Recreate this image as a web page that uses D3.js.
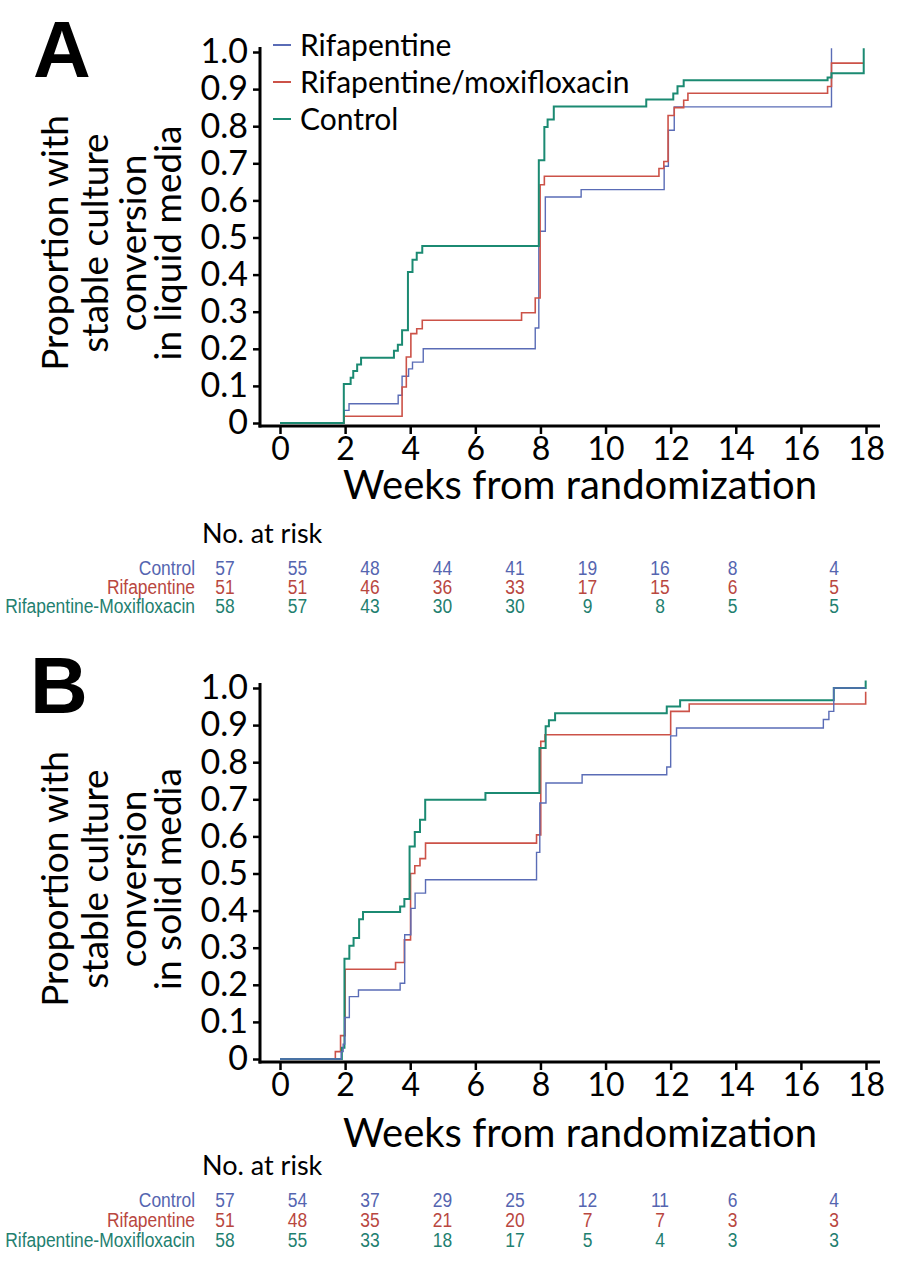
<!DOCTYPE html>
<html><head><meta charset="utf-8">
<script src="https://cdn.jsdelivr.net/npm/d3@7"></script>
<style>body{margin:0;background:#fff}svg{display:block}</style>
</head><body>
<script>
// ---------- DATA ----------
const xTicks = [0,2,4,6,8,10,12,14,16,18];
const yTicks = [0,0.1,0.2,0.3,0.4,0.5,0.6,0.7,0.8,0.9,1.0];
const legendNames = ["Rifapentine","Rifapentine/moxifloxacin","Control"];
const riskGroups = ["Control","Rifapentine","Rifapentine-Moxifloxacin"];
const riskTimes = [0,2,4,6,8,10,12,14,16.8];

// Panel A (liquid media)
const aRifT = [0,1.97,2.12,3.63,3.75,3.95,4.07,4.4,7.84,7.95,8.15,9.25,11.8,11.93,12.11,16.94];
const aRifV = [0,0.034,0.052,0.075,0.126,0.146,0.164,0.2,0.256,0.517,0.609,0.629,0.692,0.789,0.852,1.01];
const aMoxT = [0,1.97,3.75,3.88,4.02,4.2,4.37,7.42,7.84,7.99,8.12,11.64,11.79,11.92,12.11,12.4,12.53,16.82,16.94,17.93];
const aMoxV = [0,0.018,0.097,0.178,0.241,0.254,0.277,0.297,0.337,0.642,0.665,0.686,0.705,0.829,0.85,0.87,0.889,0.907,0.97,0.97];
const aCtlT = [0,1.96,2.17,2.25,2.37,2.49,3.5,3.62,3.75,3.93,4.07,4.2,4.37,7.95,8.12,8.22,8.41,11.25,12.08,12.21,12.4,16.82,16.94,17.93];
const aCtlV = [0,0.105,0.122,0.14,0.158,0.176,0.195,0.211,0.25,0.407,0.44,0.459,0.477,0.708,0.798,0.818,0.853,0.872,0.888,0.908,0.924,0.931,0.943,1.01];
const aRiskControl = [57,55,48,44,41,19,16,8,4];
const aRiskRif = [51,51,46,36,33,17,15,6,5];
const aRiskMox = [58,57,43,30,30,9,8,5,5];

// Panel B (solid media)
const bRifT = [0,1.88,1.94,1.99,2.13,2.41,3.69,3.83,4.02,4.15,4.47,7.88,7.98,8.17,9.28,11.88,12.0,12.18,16.69,16.86,17.01,17.99];
const bRifV = [0,0.02,0.04,0.112,0.168,0.186,0.204,0.335,0.406,0.447,0.483,0.557,0.69,0.744,0.766,0.787,0.871,0.892,0.915,0.937,1.0,1.0];
const bMoxT = [0,1.7,1.86,2.0,3.55,3.82,4.01,4.14,4.3,4.47,7.88,8.01,8.14,12.0,12.57,17.99];
const bMoxV = [0,0.02,0.063,0.242,0.26,0.321,0.5,0.521,0.54,0.582,0.604,0.856,0.874,0.937,0.957,0.99];
const bCtlT = [0,1.9,1.98,2.13,2.26,2.43,2.55,3.69,3.82,3.98,4.14,4.3,4.46,6.31,7.97,8.16,8.26,8.45,11.88,12.29,17.01,17.99];
const bCtlV = [0,0.03,0.27,0.305,0.326,0.377,0.396,0.411,0.431,0.573,0.612,0.645,0.699,0.717,0.838,0.897,0.913,0.932,0.95,0.967,1.0,1.02];
const bRiskControl = [57,54,37,29,25,12,11,6,4];
const bRiskRif = [51,48,35,21,20,7,7,3,3];
const bRiskMox = [58,55,33,18,17,5,4,3,3];

// ---------- STYLE ----------
const C_BLUE = "#5a6cb6", C_RED = "#cc5248", C_TEAL = "#1b8a72";
const RISK_COLORS = ["#5565b0", "#b9473f", "#1f8070"];
const AX_FONT = "Lato, 'Open Sans', sans-serif";
const RISK_FONT = "'Liberation Sans', Arial, sans-serif";
const NARROW = 0.83;

const svg = d3.select("body").append("svg").attr("width",900).attr("height",1266);

function panel(opt){
  const g = svg.append("g");
  const x = d3.scaleLinear().domain([0,18]).range([280,866]);
  const y = d3.scaleLinear().domain([0,1]).range([opt.y0, opt.y1]);
  const axY = opt.y0 + 3;

  // big letter
  g.append("text").attr("x",opt.letterX).attr("y",opt.letterY)
    .attr("font-family","'Liberation Sans', Arial, sans-serif").attr("font-weight",900)
    .attr("font-size",80).text(opt.letter);

  // y title
  opt.yTitle.forEach((t,i)=>{
    g.append("text").attr("transform",`translate(${[55,95,133,168][i]},${opt.yTitleC}) rotate(-90)`)
      .attr("text-anchor","middle").attr("dy","0.36em")
      .attr("font-family",AX_FONT).attr("font-size",37).text(t);
  });

  // y axis
  const yAxis = d3.axisLeft(y).tickValues(yTicks).tickSize(7).tickPadding(5)
    .tickFormat(d=> d===0 ? "0" : d3.format(".1f")(d));
  const ya = g.append("g").attr("transform","translate(260,0)").call(yAxis);
  ya.select(".domain").remove();
  ya.selectAll("line").attr("stroke","#000").attr("stroke-width",2.5);
  ya.selectAll("text").attr("font-family",AX_FONT).attr("font-size",34).attr("fill","#000");
  g.append("line").attr("x1",260).attr("x2",260).attr("y1",opt.y1-5).attr("y2",axY+1.5)
    .attr("stroke","#000").attr("stroke-width",3);

  // x axis
  const xAxis = d3.axisBottom(x).tickValues(xTicks).tickSize(8).tickPadding(3);
  const xa = g.append("g").attr("transform",`translate(0,${axY})`).call(xAxis);
  xa.select(".domain").remove();
  xa.selectAll("line").attr("stroke","#000").attr("stroke-width",2.5);
  xa.selectAll("text").attr("font-family",AX_FONT).attr("font-size",32).attr("fill","#000");
  g.append("line").attr("x1",258.5).attr("x2",880).attr("y1",axY).attr("y2",axY)
    .attr("stroke","#000").attr("stroke-width",3);

  g.append("text").attr("x",580).attr("y",opt.xTitleY).attr("text-anchor","middle")
    .attr("font-family",AX_FONT).attr("font-size",40).text("Weeks from randomization");

  // curves
  const line = d3.line().x(d=>x(d[0])).y(d=>y(d[1])).curve(d3.curveStepAfter);
  opt.series.forEach(s=>{
    g.append("path").datum(d3.zip(s.t,s.v)).attr("d",line)
      .attr("fill","none").attr("stroke",s.c).attr("stroke-width",s.w);
  });

  // risk table
  g.append("text").attr("x",202).attr("y",opt.riskTitleY)
    .attr("font-family",AX_FONT).attr("font-size",27).text("No. at risk");
  const rx = d3.scaleLinear().domain([0,16.8]).range([225,834]);
  opt.risk.forEach((row,i)=>{
    const yy = opt.riskRowY[i];
    g.append("text").attr("transform",`translate(195,${yy}) scale(${NARROW},1)`).attr("text-anchor","end")
      .attr("font-family",RISK_FONT).attr("font-size",21).attr("fill",RISK_COLORS[i]).text(riskGroups[i]);
    g.selectAll(null).data(row).enter().append("text")
      .attr("transform",(d,j)=>`translate(${rx(riskTimes[j])},${yy}) scale(${NARROW},1)`)
      .attr("text-anchor","middle")
      .attr("font-family",RISK_FONT).attr("font-size",21).attr("fill",RISK_COLORS[i]).text(d=>d);
  });
  return {x,y,g};
}

const A = panel({
  letter:"A", letterX:33, letterY:77, y0:423, y1:52, yTitleC:243,
  yTitle:["Proportion with","stable culture","conversion","in liquid media"],
  xTitleY:499, riskTitleY:543, riskRowY:[575,594,613],
  risk:[aRiskControl,aRiskRif,aRiskMox],
  series:[
    {t:aRifT,v:aRifV,c:C_BLUE,w:1.4},
    {t:aMoxT,v:aMoxV,c:C_RED,w:1.6},
    {t:aCtlT,v:aCtlV,c:C_TEAL,w:2}
  ]
});

// legend (panel A)
const legColors = [C_BLUE, C_RED, C_TEAL];
const legY = [45,82,119];
legendNames.forEach((n,i)=>{
  A.g.append("line").attr("x1",273).attr("x2",291).attr("y1",legY[i]).attr("y2",legY[i])
    .attr("stroke",legColors[i]).attr("stroke-width",2);
  A.g.append("text").attr("x",300).attr("y",legY[i]).attr("dy","0.36em")
    .attr("font-family",AX_FONT).attr("font-size",30).attr("fill","#000").text(n);
});

panel({
  letter:"B", letterX:30, letterY:713, y0:1059, y1:688, yTitleC:879,
  yTitle:["Proportion with","stable culture","conversion","in solid media"],
  xTitleY:1147, riskTitleY:1175, riskRowY:[1207,1227,1247],
  risk:[bRiskControl,bRiskRif,bRiskMox],
  series:[
    {t:bMoxT,v:bMoxV,c:C_RED,w:1.6},
    {t:bCtlT,v:bCtlV,c:C_TEAL,w:2},
    {t:bRifT,v:bRifV,c:C_BLUE,w:1.4}
  ]
});
</script>
</body></html>
